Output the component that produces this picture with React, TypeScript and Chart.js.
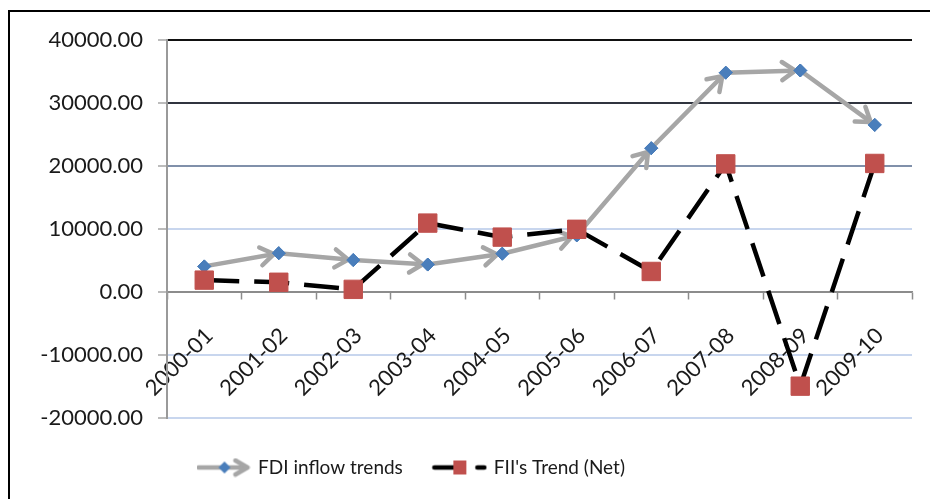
import React, { useEffect, useRef } from 'react';
import { Chart, registerables } from 'chart.js';

Chart.register(...registerables);

// ---- data ----
const categories = ['2000-01', '2001-02', '2002-03', '2003-04', '2004-05', '2005-06', '2006-07', '2007-08', '2008-09', '2009-10'];
const fdiInflow = [4029, 6130, 5035, 4322, 6051, 8961, 22826, 34835, 35180, 26530];
const fiiNet = [1847, 1505, 377, 10918, 8686, 9926, 3225, 20328, -15017, 20400];
const yTickValues = [-20000, -10000, 0, 10000, 20000, 30000, 40000];
const seriesNames = ['FDI inflow trends', "FII's Trend (Net)"];

// ---- styles ----
const FDI_LINE = '#a6a6a6';
const FDI_POINT = '#4a7ebb';
const FII_LINE = '#000000';
const FII_POINT = '#c0504d';
const TEXT = '#1a1a1a';
const FONT = 'Lato';

function gridColor(v: number): string {
  if (v === 40000) return '#111111';
  if (v === 30000) return '#30343f';
  if (v === 20000) return '#8090aa';
  if (v === 0) return '#8c8c8c';
  return '#c8d6ee';
}

function makeFdiSample(): HTMLCanvasElement {
  const c = document.createElement('canvas');
  c.width = 54; c.height = 20;
  const g = c.getContext('2d')!;
  g.strokeStyle = FDI_LINE; g.lineWidth = 4.5; g.lineCap = 'round'; g.lineJoin = 'round';
  g.beginPath(); g.moveTo(2, 10); g.lineTo(50, 10); g.stroke();
  g.beginPath(); g.moveTo(39, 3); g.lineTo(51, 10); g.lineTo(39, 17); g.stroke();
  g.fillStyle = FDI_POINT;
  g.beginPath(); g.moveTo(28, 4); g.lineTo(34, 10); g.lineTo(28, 16); g.lineTo(22, 10); g.closePath(); g.fill();
  return c;
}

function makeFiiSample(): HTMLCanvasElement {
  const c = document.createElement('canvas');
  c.width = 56; c.height = 20;
  const g = c.getContext('2d')!;
  g.strokeStyle = FII_LINE; g.lineWidth = 4.5; g.lineCap = 'round';
  g.beginPath(); g.moveTo(3, 10); g.lineTo(26, 10); g.stroke();
  g.beginPath(); g.moveTo(46, 10); g.lineTo(53, 10); g.stroke();
  g.fillStyle = FII_POINT;
  g.fillRect(22, 3, 13, 14);
  return c;
}

const arrowPlugin = {
  id: 'fdiArrows',
  afterDatasetDraw(chart: any, args: any) {
    if (args.index !== 0) return;
    const pts = args.meta.data;
    const ctx = chart.ctx;
    ctx.save();
    ctx.strokeStyle = FDI_LINE;
    ctx.lineWidth = 4.5;
    ctx.lineCap = 'round';
    ctx.lineJoin = 'round';
    for (let i = 1; i < pts.length; i++) {
      const a = pts[i - 1];
      const b = pts[i];
      const ang = Math.atan2(b.y - a.y, b.x - a.x);
      const tx = b.x - Math.cos(ang) * 5;
      const ty = b.y - Math.sin(ang) * 5;
      const L = 16;
      const s = 0.6;
      ctx.beginPath();
      ctx.moveTo(tx - L * Math.cos(ang - s), ty - L * Math.sin(ang - s));
      ctx.lineTo(tx, ty);
      ctx.lineTo(tx - L * Math.cos(ang + s), ty - L * Math.sin(ang + s));
      ctx.stroke();
    }
    ctx.restore();
    pts.forEach((p: any) => p.draw(ctx, chart.chartArea));
  },
};

export default function App() {
  const canvasRef = useRef<HTMLCanvasElement | null>(null);

  useEffect(() => {
    let chart: Chart | null = null;
    let cancelled = false;
    const build = () => {
      if (cancelled || !canvasRef.current) return;
      const fdiSample = makeFdiSample();
      const fiiSample = makeFiiSample();
      chart = new Chart(canvasRef.current, {
        type: 'line',
        data: {
          labels: categories,
          datasets: [
            {
              label: seriesNames[0],
              data: fdiInflow,
              borderColor: FDI_LINE,
              borderWidth: 4.5,
              tension: 0,
              fill: false,
              pointStyle: 'rectRot',
              pointRadius: 6.5,
              pointHoverRadius: 6.5,
              pointBackgroundColor: FDI_POINT,
              pointBorderColor: FDI_POINT,
              pointBorderWidth: 1,
              order: 1,
            },
            {
              label: seriesNames[1],
              data: fiiNet,
              borderColor: FII_LINE,
              borderWidth: 4.5,
              borderDash: [35, 15],
              tension: 0,
              fill: false,
              pointStyle: 'rect',
              pointRadius: 13,
              pointHoverRadius: 13,
              pointBackgroundColor: FII_POINT,
              pointBorderColor: FII_POINT,
              pointBorderWidth: 1,
              order: 0,
            },
          ],
        },
        options: {
          responsive: false,
          animation: false,
          devicePixelRatio: 1,
          events: [],
          layout: { padding: { left: 0, right: 28, top: 26, bottom: 0 } },
          scales: {
            x: {
              type: 'category',
              position: { y: 0 } as any,
              offset: true,
              grid: {
                offset: true,
                drawOnChartArea: false,
                drawTicks: true,
                tickLength: 7,
                tickColor: '#8c8c8c',
                tickWidth: 1.5,
              },
              border: { display: true, color: '#8c8c8c', width: 1.5 },
              ticks: {
                autoSkip: false,
                maxRotation: 45,
                minRotation: 45,
                padding: 24,
                labelOffset: 5,
                color: TEXT,
                font: { family: FONT, size: 22 },
              },
            },
            y: {
              type: 'linear',
              min: yTickValues[0],
              max: yTickValues[yTickValues.length - 1],
              ticks: {
                stepSize: yTickValues[1] - yTickValues[0],
                padding: 15,
                color: TEXT,
                font: { family: FONT, size: 22 },
                callback: (v: any) => Number(v).toFixed(2),
              },
              grid: {
                color: (c: any) => gridColor(c.tick ? c.tick.value : 1),
                lineWidth: 2,
                tickColor: '#a6a6a6',
                tickLength: 9,
                tickWidth: 1.5,
              },
              border: { display: true, color: '#9a9a9a', width: 2 },
              afterFit: (s: any) => { s.width = 157; },
            },
          },
          plugins: {
            tooltip: { enabled: false },
            legend: {
              position: 'bottom',
              align: 'start',
              fullSize: false,
              title: { display: true, text: ' ', padding: 0, font: { family: FONT, size: 7.5, lineHeight: 1.2 } },
              labels: {
                usePointStyle: true,
                pointStyleWidth: 50,
                padding: 31.5,
                color: TEXT,
                font: { family: FONT, size: 19 },
                generateLabels: () => [
                  { text: seriesNames[0], pointStyle: fdiSample as any, fillStyle: FDI_POINT, strokeStyle: FDI_LINE, lineWidth: 0, hidden: false, datasetIndex: 0, fontColor: TEXT },
                  { text: seriesNames[1], pointStyle: fiiSample as any, fillStyle: FII_POINT, strokeStyle: FII_LINE, lineWidth: 0, hidden: false, datasetIndex: 1, fontColor: TEXT },
                ],
              },
            },
          },
        },
        plugins: [arrowPlugin],
      } as any);
    };
    const fonts: any = (document as any).fonts;
    const ready = fonts
      ? Promise.all([fonts.load(`22px ${FONT}`), fonts.load(`19px ${FONT}`)])
      : Promise.resolve();
    ready.then(build, build);
    return () => {
      cancelled = true;
      if (chart) chart.destroy();
    };
  }, []);

  return (
    <div style={{ position: 'fixed', left: 8, top: 10, width: 922, height: 489, overflow: 'hidden', background: '#fff' }}>
      <div style={{ width: 940, height: 520, border: '2px solid #000', background: '#fff' }}>
        <canvas ref={canvasRef} width={930} height={475} style={{ display: 'block' }} />
      </div>
    </div>
  );
}
